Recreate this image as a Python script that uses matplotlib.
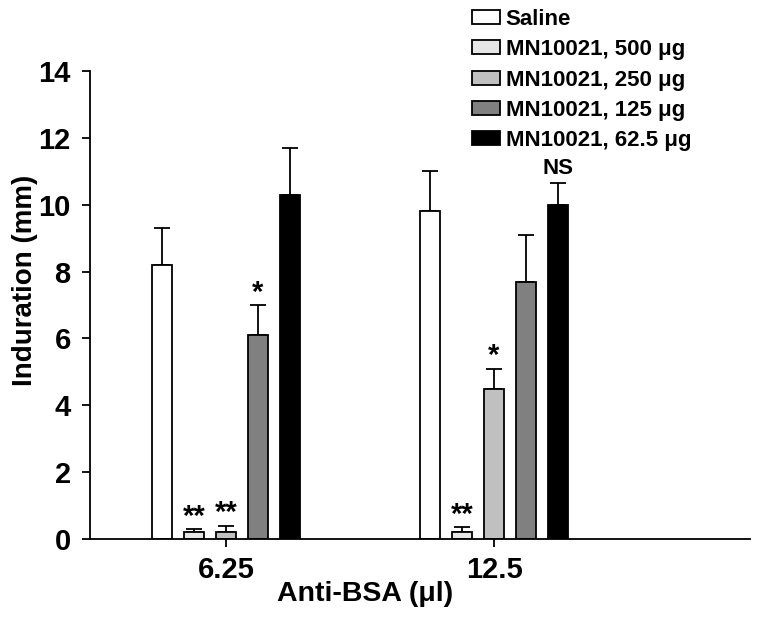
import matplotlib
matplotlib.use("Agg")
import matplotlib.pyplot as plt
import numpy as np

plt.rcParams['font.family'] = ['Liberation Sans', 'DejaVu Sans']
plt.rcParams['font.weight'] = 'bold'

groups = ["6.25", "12.5"]
series = ["Saline", "MN10021, 500 \u03bcg", "MN10021, 250 \u03bcg",
          "MN10021, 125 \u03bcg", "MN10021, 62.5 \u03bcg"]
colors = ["#ffffff", "#e6e6e6", "#c0c0c0", "#808080", "#000000"]
values = [[8.2, 9.8], [0.2, 0.2], [0.2, 4.5], [6.1, 7.7], [10.3, 10.0]]
errors = [[1.1, 1.2], [0.1, 0.15], [0.2, 0.6], [0.9, 1.4], [1.4, 0.65]]
marks = [["", ""], ["**", "**"], ["**", "*"], ["*", ""], ["", "NS"]]

fig = plt.figure(figsize=(7.7, 6.25), dpi=100)
ax = fig.add_axes([0.117, 0.1376, 0.857, 0.7488])

x = np.arange(len(groups))
width = 0.0746
step = 0.119
handles = []
for i, (name, c) in enumerate(zip(series, colors)):
    pos = x + (i - 2) * step
    b = ax.bar(pos, values[i], width, color=c, edgecolor='black', linewidth=1.3,
               label=name, zorder=2)
    handles.append(b)
    ax.errorbar(pos, values[i], yerr=[np.zeros(len(groups)), errors[i]],
                fmt='none', ecolor='black', elinewidth=1.3, capsize=6,
                capthick=1.3, zorder=1)
    for j in range(len(groups)):
        if marks[i][j]:
            top = values[i][j] + errors[i][j]
            if marks[i][j] == "NS":
                ax.text(pos[j], top + 0.12, marks[i][j], ha='center', va='bottom',
                        fontsize=16, fontweight='bold')
            else:
                ax.text(pos[j], top - 0.05, marks[i][j], ha='center', va='bottom',
                        fontsize=21, fontweight='bold')

ax.set_xlim(-0.507, 1.955)
ax.set_ylim(0, 14)
ax.set_yticks(np.arange(0, 15, 2))
ax.set_xticks(x)
ax.set_xticklabels(groups)
ax.spines['top'].set_visible(False)
ax.spines['right'].set_visible(False)
ax.spines['left'].set_linewidth(1.3)
ax.spines['bottom'].set_linewidth(1.3)
ax.tick_params(axis='both', labelsize=21, width=1.3, length=6, direction='out')
ax.tick_params(axis='y', pad=8)
ax.tick_params(axis='x', pad=6)
for lab in ax.get_xticklabels() + ax.get_yticklabels():
    lab.set_fontweight('bold')
ax.set_ylabel("Induration (mm)", fontsize=20, fontweight='bold')
ax.set_xlabel("Anti-BSA (\u03bcl)", fontsize=20.5, fontweight='bold')
ax.yaxis.set_label_coords(-0.079, 0.553)
ax.xaxis.set_label_coords(0.417, -0.09)

leg = fig.legend(handles=handles, labels=series, loc='upper left',
                 bbox_to_anchor=(0.602, 1.0), frameon=False, fontsize=16,
                 handlelength=1.25, handleheight=0.6, handletextpad=0.25,
                 labelspacing=0.42, borderaxespad=0)
for t in leg.get_texts():
    t.set_fontweight('bold')

fig.savefig("out.png", dpi=100)
